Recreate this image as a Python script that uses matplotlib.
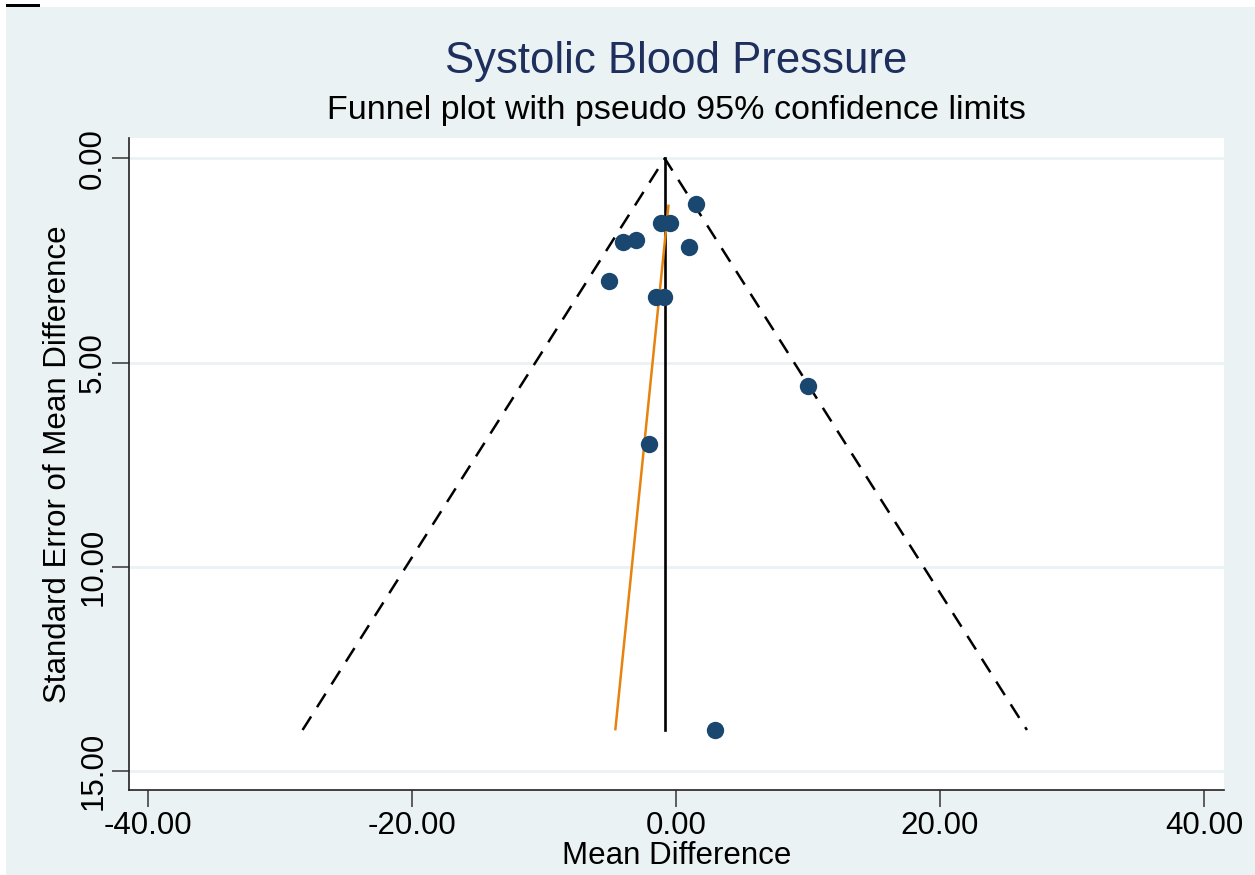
import matplotlib.pyplot as plt
from matplotlib.patches import Rectangle

# study estimates (mean difference) and their standard errors
mean_diff = [1.55, -1.12, -0.49, -4.03, -3.02, 0.95, -5.04, -1.55, -0.87, 9.99, -2.01, 2.97]
std_err = [1.12, 1.59, 1.59, 2.04, 2.00, 2.18, 3.01, 3.39, 3.39, 5.58, 7.00, 14.00]

pooled = -0.85
max_se = 14.0
# Egger regression line end points
egger_x = [-0.57, -4.59]
egger_y = [1.16, 13.98]

x_ticks = [-40, -20, 0, 20, 40]
y_ticks = [0, 5, 10, 15]

bg = '#EAF2F3'
plt.rcParams['font.family'] = ['Liberation Sans', 'DejaVu Sans']

fig = plt.figure(figsize=(12.55, 8.75), dpi=100, facecolor='white')
fig.patches.append(Rectangle((6 / 1255, 0), 1, 1 - 7 / 875, transform=fig.transFigure,
                             facecolor=bg, edgecolor='none', zorder=-10))
fig.patches.append(Rectangle((6 / 1255, 1 - 7 / 875), 34 / 1255, 3 / 875, transform=fig.transFigure,
                             facecolor='black', edgecolor='none', zorder=-9))

ax = fig.add_axes([129 / 1255, 1 - 790 / 875, (1224 - 129) / 1255, (790 - 138) / 875])
ax.set_facecolor('white')

for y in y_ticks:
    ax.axhline(y, color=bg, lw=2, zorder=0)

# pseudo 95% confidence limits
ax.plot([pooled - 1.96 * max_se, pooled, pooled + 1.96 * max_se], [max_se, 0, max_se],
        color='black', lw=1.8, ls=(0, (6.4, 4.4)), zorder=2)
ax.plot([pooled, pooled], [0, max_se], color='black', lw=1.9, zorder=2)
ax.plot(egger_x, egger_y, color='#E8820E', lw=1.8, zorder=3)
ax.plot(mean_diff, std_err, 'o', color='#1A476F', ms=12.5, mec='none', zorder=4)

ax.set_xlim(-41.44, 41.52)
ax.set_ylim(15.47, -0.5)
ax.set_xticks(x_ticks)
ax.set_yticks(y_ticks)
ax.set_xticklabels([f'{v:.2f}' for v in x_ticks])
ax.set_yticklabels([f'{v:.2f}' for v in y_ticks], rotation=90, va='center')
ax.tick_params(axis='both', length=12, width=1.2, color='#444444', labelsize=22.5, pad=3)

for s in ['top', 'right']:
    ax.spines[s].set_visible(False)
for s in ['left', 'bottom']:
    ax.spines[s].set_color('#222222')
    ax.spines[s].set_linewidth(1.2)

ax.set_xlabel('Mean Difference', fontsize=22.5, labelpad=0)
ax.set_ylabel('Standard Error of Mean Difference', fontsize=22.5, labelpad=4)

fig.text(676 / 1255, 1 - 61 / 875, 'Systolic Blood Pressure', fontsize=31.5, color='#1E2F5E',
         ha='center', va='center')
fig.text(676 / 1255, 1 - 111 / 875, 'Funnel plot with pseudo 95% confidence limits', fontsize=24.5,
         color='black', ha='center', va='center')

fig.savefig('out.png', dpi=100, facecolor=fig.get_facecolor())
